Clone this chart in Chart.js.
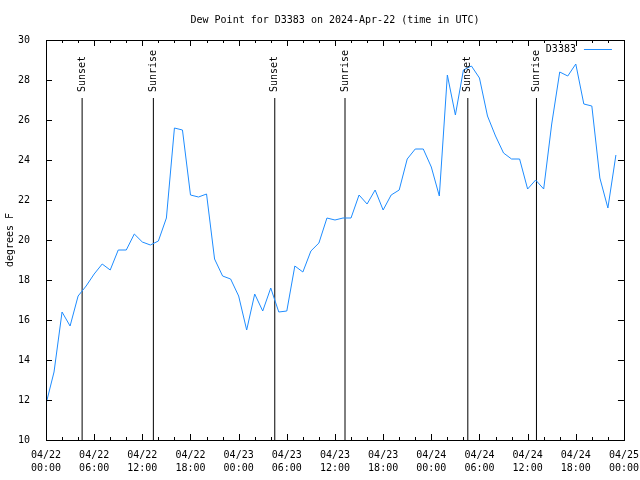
<!DOCTYPE html>
<html>
<head>
<meta charset="utf-8">
<script src="https://cdn.jsdelivr.net/npm/chart.js@4.4.1/dist/chart.umd.min.js"></script>
<style>
  html, body { margin: 0; padding: 0; background: #fff; }
</style>
</head>
<body>
<canvas id="myChart" width="640" height="480"></canvas>
<script>
// hours since 2024-04-22 00:00 UTC
var hours = [0, 1, 2, 3, 4, 5, 6, 7, 8, 9, 10, 11, 12, 13, 14, 15, 16, 17, 18, 19, 20, 21, 22, 23,
    24, 25, 26, 27, 28, 29, 30, 31, 32, 33, 34, 35, 36, 37, 38, 39, 40, 41, 42, 43, 44, 45, 46, 47,
    48, 49, 50, 51, 52, 53, 54, 55, 56, 57, 58, 59, 60, 61, 62, 63, 64, 65, 66, 67, 68, 69, 70, 71];
var dewPoint = [11.8, 13.4, 16.4, 15.7, 17.2, 17.7, 18.3, 18.8, 18.5, 19.5, 19.5, 20.3,
    19.9, 19.75, 19.95, 21.1, 25.6, 25.5, 22.25, 22.15, 22.3, 19.05, 18.2, 18.05,
    17.2, 15.5, 17.3, 16.45, 17.6, 16.4, 16.45, 18.7, 18.4, 19.45, 19.85, 21.1,
    21.0, 21.1, 21.1, 22.25, 21.8, 22.5, 21.5, 22.25, 22.5, 24.05, 24.55, 24.55,
    23.65, 22.2, 28.25, 26.25, 28.5, 28.7, 28.1, 26.2, 25.2, 24.35, 24.05, 24.05,
    22.55, 23.0, 22.55, 25.8, 28.4, 28.2, 28.8, 26.8, 26.7, 23.1, 21.6, 24.25];
var eventHours = [4.5, 13.375, 28.5, 37.25, 52.55, 61.1];
var eventNames = ['Sunset', 'Sunrise', 'Sunset', 'Sunrise', 'Sunset', 'Sunrise'];
var eventTop = 27.1;
var stationName = 'D3383';

var fontFam = '"DejaVu Sans Mono", monospace';
var lineBlue = '#1e8cff';

var datasets = [{
    label: stationName,
    data: hours.map(function (h, i) { return { x: h, y: dewPoint[i] }; }),
    borderColor: lineBlue,
    borderWidth: 1,
    pointRadius: 0,
    tension: 0,
    fill: false
}];
eventHours.forEach(function (t, i) {
    datasets.push({
        label: eventNames[i],
        data: [{ x: t, y: 10 }, { x: t, y: eventTop }],
        borderColor: '#000',
        borderWidth: 1,
        pointRadius: 0,
        fill: false
    });
});

function pad2(n) { return (n < 10 ? '0' : '') + n; }

var gnuplotLook = {
    id: 'gnuplotLook',
    afterDatasetsDraw: function (chart) {
        var ctx = chart.ctx;
        var a = chart.chartArea;
        var xs = chart.scales.x, ys = chart.scales.y;
        ctx.save();
        ctx.strokeStyle = '#000';
        ctx.lineWidth = 1;
        ctx.strokeRect(Math.round(a.left) + 0.5, Math.round(a.top) + 0.5,
            Math.round(a.right - a.left), Math.round(a.bottom - a.top));

        // inward tick marks on all four sides
        ctx.beginPath();
        xs.ticks.forEach(function (t) {
            var px = Math.round(xs.getPixelForValue(t.value)) + 0.5;
            var len = t.value % 6 === 0 ? 6 : 3;
            ctx.moveTo(px, a.bottom); ctx.lineTo(px, a.bottom - len);
            ctx.moveTo(px, a.top); ctx.lineTo(px, a.top + len);
        });
        ys.ticks.forEach(function (t) {
            var py = Math.round(ys.getPixelForValue(t.value)) + 0.5;
            ctx.moveTo(a.left, py); ctx.lineTo(a.left + 6, py);
            ctx.moveTo(a.right, py); ctx.lineTo(a.right - 6, py);
        });
        ctx.stroke();

        ctx.fillStyle = '#000';
        ctx.font = '10px ' + fontFam;

        // sunrise / sunset labels
        eventHours.forEach(function (t, i) {
            var px = xs.getPixelForValue(t);
            var py = ys.getPixelForValue(eventTop) - 6;
            ctx.save();
            ctx.translate(px, py);
            ctx.rotate(-Math.PI / 2);
            ctx.textAlign = 'left';
            ctx.textBaseline = 'middle';
            ctx.fillText(eventNames[i], 0, 0);
            ctx.restore();
        });

        // title
        ctx.textAlign = 'center';
        ctx.textBaseline = 'middle';
        ctx.fillText('Dew Point for D3383 on 2024-Apr-22 (time in UTC)', (a.left + a.right) / 2, 20);

        // y axis title
        ctx.save();
        ctx.translate(10, (a.top + a.bottom) / 2);
        ctx.rotate(-Math.PI / 2);
        ctx.fillText('degrees F', 0, 0);
        ctx.restore();

        // legend
        ctx.textAlign = 'right';
        ctx.fillText(stationName, a.right - 48, 49);
        ctx.strokeStyle = lineBlue;
        ctx.beginPath();
        ctx.moveTo(a.right - 40, 49.5);
        ctx.lineTo(a.right - 12, 49.5);
        ctx.stroke();
        ctx.restore();
    }
};

var ctx = document.getElementById('myChart').getContext('2d');
var myChart = new Chart(ctx, {
    type: 'line',
    data: { datasets: datasets },
    options: {
        responsive: false,
        animation: false,
        devicePixelRatio: 1,
        layout: { padding: { left: 0, top: 40, right: 15, bottom: 0 } },
        plugins: {
            legend: { display: false },
            title: { display: false },
            tooltip: { enabled: false }
        },
        scales: {
            x: {
                type: 'linear',
                min: 0,
                max: 72,
                grid: { display: false },
                border: { display: false },
                ticks: {
                    stepSize: 2,
                    autoSkip: false,
                    maxRotation: 0,
                    padding: 1,
                    color: '#000',
                    font: { family: fontFam, size: 10, lineHeight: 1.3 },
                    callback: function (v) {
                        if (v % 6 !== 0) return '';
                        var day = 22 + Math.floor(v / 24);
                        return ['04/' + pad2(day), pad2(v % 24) + ':00'];
                    }
                },
                afterFit: function (s) { s.height = 40; }
            },
            y: {
                min: 10,
                max: 30,
                grid: { display: false },
                border: { display: false },
                ticks: {
                    stepSize: 2,
                    padding: 8,
                    color: '#000',
                    font: { family: fontFam, size: 10 }
                },
                afterFit: function (s) { s.width = 46; }
            }
        }
    },
    plugins: [gnuplotLook]
});
</script>
</body>
</html>
